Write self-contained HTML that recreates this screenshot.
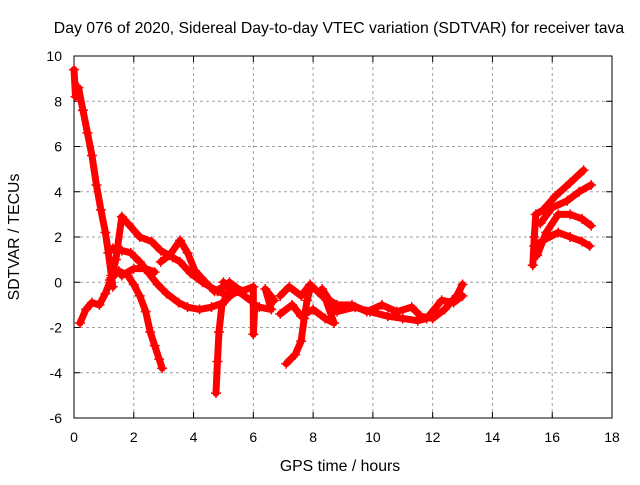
<!DOCTYPE html>
<html><head><meta charset="utf-8"><style>
body{margin:0;background:#fff;font-family:"Liberation Sans",sans-serif}
svg text{font-family:"Liberation Sans",sans-serif;font-size:14px;fill:#000}
svg text.big{font-size:15.8px}
</style></head><body>
<svg id="chart" width="640" height="480">
<rect width="640" height="480" fill="#fff"/>
<text class="big" x="339" y="33" text-anchor="middle">Day 076 of 2020, Sidereal Day-to-day VTEC variation (SDTVAR) for receiver tava</text>
<text class="big" x="340" y="471" text-anchor="middle">GPS time / hours</text>
<text class="big" transform="translate(19,237) rotate(-90)" text-anchor="middle">SDTVAR / TECUs</text>
<g id="grid"></g><g id="axes"></g><g id="marks"></g>
</svg>
<script>
const xTicks=[0,2,4,6,8,10,12,14,16,18];
const yTicks=[-6,-4,-2,0,2,4,6,8,10];
const trackDescent=[[0,9.4],[0.05,8.2],[0.15,8.6],[0.3,7.6],[0.45,6.6],[0.6,5.6],[0.75,4.3],[0.9,3.2],[1.05,2.2],[1.15,1.3],[1.25,0.3],[1.3,-0.2]];
const trackRise=[[0.2,-1.8],[0.4,-1.2],[0.6,-0.9],[0.85,-1.0],[1.05,-0.5],[1.25,0.2],[1.4,1.0],[1.6,2.9],[1.8,2.6],[2.2,2.0],[2.6,1.8],[2.9,1.4],[3.3,1.1],[3.55,0.9],[3.9,0.4],[4.3,0.0],[4.8,-0.4],[5.2,-0.6],[5.5,-0.4],[5.9,-0.8]];
const trackPeak2=[[2.9,0.9],[3.2,1.2],[3.55,1.85],[3.8,1.3],[4.05,0.5],[4.4,0.0],[4.7,-0.4],[5.0,-0.2]];
const trackMid=[[1.3,1.5],[1.6,1.4],[1.9,1.3],[2.2,0.9],[2.5,0.4],[2.8,-0.1],[3.1,-0.5],[3.5,-0.9],[3.8,-1.1],[4.2,-1.2],[4.6,-1.1],[5.0,-0.9],[5.3,-0.5],[5.0,0.0]];
const trackFall=[[1.2,0.1],[1.5,0.5],[1.8,0.3],[2.0,-0.1],[2.2,-0.6],[2.4,-1.3],[2.55,-2.2],[2.7,-2.8],[2.85,-3.4],[2.95,-3.8]];
const trackShort=[[1.6,0.3],[2.0,0.6],[2.4,0.6],[2.7,0.45]];
const trackDip5=[[4.75,-4.9],[4.8,-3.5],[4.85,-2.2],[4.95,-1.0],[5.1,-0.6]];
const trackCluster6=[[5.2,0.0],[5.6,-0.4],[6.0,-0.2],[6.0,-2.3],[6.05,-1.0],[6.2,-1.1],[6.6,-1.2],[6.4,-0.3],[6.7,-0.8]];
const trackLoop8=[[6.9,-0.6],[7.2,-0.2],[7.6,-0.6],[7.9,-0.1],[8.3,-0.6],[8.8,-1.0],[9.3,-1.0],[9.8,-1.3],[10.3,-1.0],[10.8,-1.3],[11.3,-1.1],[11.6,-1.5],[12.0,-1.6],[12.4,-1.2],[12.8,-0.6],[13.0,-0.1]];
const trackLoop8b=[[6.9,-1.4],[7.3,-1.0],[7.6,-1.5],[8.0,-1.2],[8.4,-1.6],[8.7,-1.8],[8.3,-0.3],[8.8,-1.3],[9.4,-1.1],[9.9,-1.3],[10.5,-1.5],[11.0,-1.6],[11.5,-1.7],[11.8,-1.6],[12.3,-0.8],[12.7,-0.9],[13.0,-0.6]];
const trackDip7=[[7.1,-3.6],[7.4,-3.2],[7.6,-2.6],[7.7,-1.6],[7.8,-0.8],[7.9,-0.3]];
const trackRightA=[[15.35,0.75],[15.4,2.0],[15.45,3.0],[15.7,3.2],[16.1,3.8],[16.6,4.4],[17.05,4.95]];
const trackRightB=[[15.6,2.6],[16.0,3.3],[16.5,3.6],[16.9,4.0],[17.3,4.3]];
const trackRightC=[[15.5,1.2],[15.8,2.2],[16.2,3.0],[16.6,3.0],[17.0,2.8],[17.3,2.5]];
const trackRightD=[[15.4,1.6],[15.7,1.85],[16.2,2.2],[16.6,2.0],[17.0,1.8],[17.25,1.6]];
const tracks=[trackDescent,trackRise,trackPeak2,trackMid,trackFall,trackShort,trackDip5,trackCluster6,trackLoop8,trackLoop8b,trackDip7,trackRightA,trackRightB,trackRightC,trackRightD];

const X0=74,X1=612,Y0=418,Y1=56;
const xs=h=>X0+(h-0)/(18-0)*(X1-X0);
const ys=v=>Y0-(v+6)/16*(Y0-Y1);
const NS="http://www.w3.org/2000/svg";
function mk(t,a,p){const e=document.createElementNS(NS,t);for(const k in a)e.setAttribute(k,a[k]);p.appendChild(e);return e;}
const grid=document.getElementById('grid'),axes=document.getElementById('axes'),marks=document.getElementById('marks');
xTicks.forEach(t=>{const x=xs(t);
 if(t>0&&t<18){const g=mk('line',{x1:x,y1:Y0,x2:x,y2:Y1,stroke:'#a0a0a0','stroke-dasharray':'3,3'},grid);
 
 }
 mk('line',{x1:x,y1:Y0,x2:x,y2:Y0-6,stroke:'#000'},axes);mk('line',{x1:x,y1:Y1,x2:x,y2:Y1+6,stroke:'#000'},axes);
 const l=mk('text',{x:x,y:Y0+24,'text-anchor':'middle'},axes);l.textContent=t;
 
 });
yTicks.forEach(t=>{const y=ys(t);
 if(t>-6&&t<10){const g=mk('line',{x1:X0,y1:y,x2:X1,y2:y,stroke:'#a0a0a0','stroke-dasharray':'3,3'},grid);
 
 }
 mk('line',{x1:X0,y1:y,x2:X0+6,y2:y,stroke:'#000'},axes);mk('line',{x1:X1,y1:y,x2:X1-6,y2:y,stroke:'#000'},axes);
 const l=mk('text',{x:X0-12,y:y+5,'text-anchor':'end'},axes);l.textContent=t;
 
 });
const frame=mk('rect',{x:X0,y:Y1,width:X1-X0,height:Y0-Y1,fill:'none',stroke:'#000'},axes);


tracks.forEach(tr=>{
 const p=mk('polyline',{points:tr.map(d=>xs(d[0])+','+ys(d[1])).join(' '),fill:'none',stroke:'#ff0000','stroke-width':7,'stroke-linejoin':'round','stroke-linecap':'round'},marks);
 
 
 tr.forEach(d=>{const x=xs(d[0]),y=ys(d[1]);
  const m=mk('path',{d:`M${x-5},${y}H${x+5}M${x},${y-5}V${y+5}`,stroke:'#ff0000','stroke-width':1.5},marks);
  
  });
});
</script>
</body></html>
